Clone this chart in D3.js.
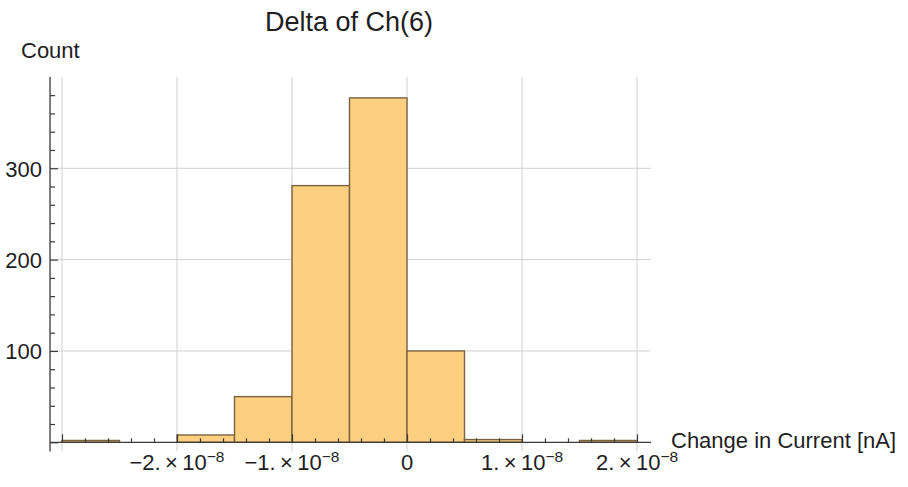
<!DOCTYPE html>
<html>
<head>
<meta charset="utf-8">
<script src="https://cdn.jsdelivr.net/npm/d3@7"></script>
<style>
  body { margin: 0; background: #fff; }
  svg text { font-family: "Liberation Sans", Arial, sans-serif; fill: #1e1e1e; }
</style>
</head>
<body>
<div id="chart"></div>
<script>
// histogram bins (left edges, in A) and counts
var binStarts = [-3e-8, -2.5e-8, -2e-8, -1.5e-8, -1e-8, -0.5e-8, 0, 0.5e-8, 1e-8, 1.5e-8];
var binWidth = 0.5e-8;
var counts = [2, 0, 8, 50, 281, 377, 100, 3, 0, 2];

var xMajor = [-3e-8, -2e-8, -1e-8, 0, 1e-8, 2e-8];
var xLabeled = [-2e-8, -1e-8, 0, 1e-8, 2e-8];
var yMajor = [0, 100, 200, 300];
var yLabeled = [100, 200, 300];

var title = "Delta of Ch(6)";
var xTitle = "Change in Current [nA]";
var yTitle = "Count";

var width = 908, height = 487;

var svg = d3.select("#chart").append("svg")
    .attr("width", width)
    .attr("height", height);

// plot range (a bit of padding like Mathematica)
var xRange = [-3.104e-8, 2.122e-8];
var yRange = [-10, 400];

var x = d3.scaleLinear()
    .domain([-3e-8, 2e-8])
    .range([62, 637]);

var y = d3.scaleLinear()
    .domain([0, 400])
    .range([442.3, 76.9]);

var gridColor = "#d0d0d0";
var axisColor = "#3a3a3a";

// grid
var grid = svg.append("g").attr("class", "grid");
xMajor.forEach(function(v){
    grid.append("line")
        .attr("x1", x(v)).attr("x2", x(v))
        .attr("y1", y(yRange[0])).attr("y2", y(yRange[1]))
        .attr("stroke", gridColor).attr("stroke-width", 1);
});
yLabeled.forEach(function(v){
    grid.append("line")
        .attr("x1", x(xRange[0])).attr("x2", x(xRange[1]))
        .attr("y1", y(v)).attr("y2", y(v))
        .attr("stroke", gridColor).attr("stroke-width", 1);
});

// bars
svg.append("g").attr("class", "bars")
    .selectAll("rect")
    .data(binStarts.map(function(s, i){ return {x0: s, x1: s + binWidth, n: counts[i]}; })
        .filter(function(d){ return d.n > 0; }))
    .enter()
    .append("rect")
    .attr("x", function(d){ return x(d.x0); })
    .attr("width", function(d){ return x(d.x1) - x(d.x0); })
    .attr("y", function(d){ return y(d.n); })
    .attr("height", function(d){ return y(0) - y(d.n); })
    .attr("fill", "#fdcf80")
    .attr("stroke", "#7a6440")
    .attr("stroke-width", 1.4);

// x axis
var xMinor = d3.range(-30, 21, 2).map(function(v){ return v * 1e-9; })
    .filter(function(v){ return Math.abs((v / 1e-8) - Math.round(v / 1e-8)) > 1e-6; });

var xAxisG = svg.append("g").attr("transform", "translate(0," + y(0) + ")");
xAxisG.append("g")
    .call(d3.axisBottom(x).tickValues(xMinor).tickSize(-4).tickFormat(""))
    .call(function(g){ g.select(".domain").remove(); g.selectAll("line").attr("stroke", axisColor).attr("stroke-width", 1.2); });
xAxisG.append("g")
    .call(d3.axisBottom(x).tickValues(xMajor).tickSize(-8).tickFormat(""))
    .call(function(g){ g.select(".domain").remove(); g.selectAll("line").attr("stroke", axisColor).attr("stroke-width", 1.2); });
xAxisG.append("line")
    .attr("x1", x(xRange[0])).attr("x2", x(xRange[1]))
    .attr("stroke", axisColor).attr("stroke-width", 1.3);

// x tick labels with superscript exponent
xLabeled.forEach(function(v){
    var t = svg.append("text")
        .attr("x", x(v))
        .attr("y", 470)
        .attr("text-anchor", "middle")
        .attr("font-size", 22);
    if (v === 0) {
        t.text("0");
    } else {
        var m = Math.round(v / 1e-8);
        t.append("tspan").text((m < 0 ? "\u2212" : "") + Math.abs(m) + ".\u2009\u00d7\u200910");
        t.append("tspan").attr("dy", -8).attr("font-size", 15.5).text("\u22128");
    }
});

// y axis
var yMinor = d3.range(-0, 400, 20).filter(function(v){ return v % 100 !== 0; });
var yAxisG = svg.append("g").attr("transform", "translate(" + x(xRange[0]) + ",0)");
yAxisG.append("g")
    .call(d3.axisLeft(y).tickValues(yMinor).tickSize(-5).tickFormat(""))
    .call(function(g){ g.select(".domain").remove(); g.selectAll("line").attr("stroke", axisColor).attr("stroke-width", 1.2); });
yAxisG.append("g")
    .call(d3.axisLeft(y).tickValues(yMajor).tickSize(-8).tickPadding(8)
        .tickFormat(function(d){ return yLabeled.indexOf(d) >= 0 ? d : ""; }))
    .call(function(g){
        g.select(".domain").remove();
        g.selectAll("line").attr("stroke", axisColor).attr("stroke-width", 1.2);
        g.selectAll("text").attr("font-size", 22)
            .attr("font-family", "'Liberation Sans', Arial, sans-serif")
            .attr("fill", "#1e1e1e").attr("dy", "0.36em");
    });
yAxisG.append("line")
    .attr("y1", y(yRange[0])).attr("y2", y(yRange[1]))
    .attr("stroke", axisColor).attr("stroke-width", 1.3);

// titles
svg.append("text")
    .attr("x", 349).attr("y", 31)
    .attr("text-anchor", "middle")
    .attr("font-size", 27)
    .text(title);

svg.append("text")
    .attr("x", 21).attr("y", 58)
    .attr("font-size", 22)
    .text(yTitle);

svg.append("text")
    .attr("x", 671).attr("y", 448)
    .attr("font-size", 22)
    .text(xTitle);
</script>
</body>
</html>
